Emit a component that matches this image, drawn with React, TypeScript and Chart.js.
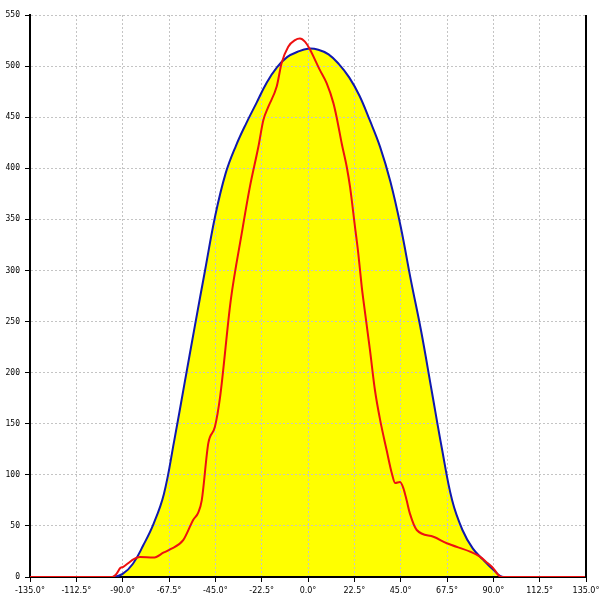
import React, { useEffect, useRef } from "react";
import { Chart, registerables } from "chart.js";

Chart.register(...registerables);

const blueAngles = [-135, -95, -90, -85, -80, -75, -70, -65, -60, -55, -50, -45, -40, -35, -30, -25, -20, -15, -10, -5, 0, 5, 10, 15, 20, 25, 30, 35, 40, 45, 50, 55, 60, 65, 70, 75, 80, 85, 90, 95, 135];
const blueValues = [0, 0, 3, 13, 31, 52, 81, 133, 189, 245, 300, 354, 395, 422, 444, 464, 484, 499, 509, 514, 517, 516, 511.5, 502, 489, 471, 447, 421, 387, 343, 290, 240, 183, 126, 75, 46, 28, 17, 7, 0, 0];

const redAngles = [-135, -95, -93, -91.3, -89.7, -87, -84.8, -81.6, -75.1, -70, -67, -60.6, -55.7, -53.3, -51.6, -48.4, -45.2, -42.7, -37.5, -32.2, -28.2, -24.1, -21.7, -19.3, -15.2, -12.8, -9.6, -6.3, -3.9, -1.5, 0.5, 5.8, 9.1, 12.3, 13.9, 16.4, 18.8, 20.4, 22.8, 24.4, 26.1, 26.9, 30.1, 32.5, 35, 38.2, 40.7, 42.3, 44.7, 46.3, 47.9, 49.5, 52.8, 60.9, 67.4, 78.7, 83.5, 87, 90, 92.4, 94, 135];
const redValues = [0, 0, 3, 8.5, 10, 14, 17.3, 19.5, 19, 24, 27, 36, 56, 63, 75, 131, 147, 176, 271, 336, 382, 421, 447, 460, 480, 503, 519, 525.5, 527, 524, 518, 496, 483, 464, 450, 424, 401.5, 382, 343, 317, 284, 271, 222, 183, 154, 124, 101.5, 92, 93, 87, 75, 62, 46, 39.4, 33, 24.8, 19.9, 14, 8.5, 2, 0, 0];

const xMin = -135;
const xMax = 135;
const xStep = 22.5;
const yMin = 0;
const yMax = 550;
const yStep = 50;

const Y_FONT = { family: "'DejaVu Sans Mono', monospace", size: 8 };
const X_FONT = { family: "'DejaVu Sans', sans-serif", size: 8 };

export default function App() {
  const ref = useRef<HTMLCanvasElement | null>(null);

  useEffect(() => {
    document.body.style.margin = "0";
    const canvas = ref.current;
    if (!canvas) return;

    const rightBorder = {
      id: "rightBorder",
      afterDraw(chart: any) {
        const { ctx, chartArea } = chart;
        ctx.save();
        ctx.strokeStyle = "#000";
        ctx.lineWidth = 2;
        ctx.beginPath();
        ctx.moveTo(chartArea.right, chartArea.top);
        ctx.lineTo(chartArea.right, chartArea.bottom);
        ctx.stroke();
        ctx.restore();
      },
    };

    const chart = new Chart(canvas, {
      type: "line",
      data: {
        datasets: [
          {
            label: "red",
            data: redAngles.map((a, i) => ({ x: a, y: redValues[i] })),
            borderColor: "#ee1010",
            borderWidth: 2,
            pointRadius: 0,
            fill: false,
            cubicInterpolationMode: "monotone",
            order: 0,
          },
          {
            label: "blue",
            data: blueAngles.map((a, i) => ({ x: a, y: blueValues[i] })),
            borderColor: "#1018b0",
            backgroundColor: "#ffff00",
            borderWidth: 2,
            pointRadius: 0,
            fill: "origin",
            tension: 0.4,
            order: 1,
          },
        ],
      },
      plugins: [rightBorder],
      options: {
        animation: false,
        responsive: false,
        maintainAspectRatio: false,
        layout: { padding: { top: 15, right: 14, left: 0, bottom: 0 } },
        plugins: {
          legend: { display: false },
          tooltip: { enabled: false },
          filler: { drawTime: "beforeDraw" } as any,
        },
        scales: {
          x: {
            type: "linear",
            min: xMin,
            max: xMax,
            afterFit: (s: any) => {
              s.height = 23;
              s.paddingLeft = 0;
              s.paddingRight = 0;
            },
            ticks: {
              stepSize: xStep,
              autoSkip: false,
              maxRotation: 0,
              padding: 4,
              color: "#000",
              font: X_FONT,
              callback: (v: any) => Number(v).toFixed(1) + "°",
            },
            grid: {
              color: "#c4c4c4",
              tickColor: "#000",
              tickLength: 5,
              tickBorderDash: [],
            } as any,
            border: { color: "#000", width: 2, dash: [2, 2] } as any,
          },
          y: {
            type: "linear",
            min: yMin,
            max: yMax,
            afterFit: (s: any) => {
              s.width = 30;
              s.paddingTop = 0;
              s.paddingBottom = 0;
            },
            ticks: {
              stepSize: yStep,
              padding: 5,
              color: "#000",
              font: Y_FONT,
            },
            grid: {
              color: "#c4c4c4",
              tickColor: "#000",
              tickLength: 5,
              tickBorderDash: [],
            } as any,
            border: { color: "#000", width: 2, dash: [2, 2] } as any,
          },
        },
      },
    });
    return () => chart.destroy();
  }, []);

  return (
    <div style={{ width: 600, height: 600 }}>
      <canvas ref={ref} width={600} height={600} style={{ display: "block" }} />
    </div>
  );
}
